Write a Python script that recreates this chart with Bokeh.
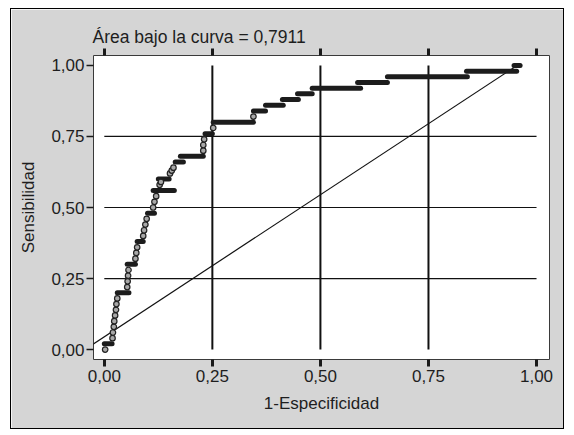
from bokeh.plotting import figure
from bokeh.models import Range1d, FixedTicker, LinearAxis
from bokeh.embed import file_html
from bokeh.resources import INLINE

# ---- data ----
tick_vals = [0.0, 0.25, 0.5, 0.75, 1.0]
tick_labels = ["0,00", "0,25", "0,50", "0,75", "1,00"]
grid_vals = [0.25, 0.5, 0.75]

# horizontal runs of the ROC curve (sensitivity level, start and end of 1-specificity)
run_y = [0.02, 0.20, 0.30, 0.38, 0.48, 0.56, 0.60, 0.66, 0.68, 0.76, 0.80, 0.84,
         0.86, 0.88, 0.90, 0.92, 0.94, 0.96, 0.98, 1.00]
run_x0 = [0.000, 0.030, 0.053, 0.076, 0.100, 0.113, 0.125, 0.164, 0.176, 0.233, 0.252, 0.345,
          0.373, 0.412, 0.447, 0.481, 0.586, 0.655, 0.838, 0.948]
run_x1 = [0.018, 0.057, 0.072, 0.090, 0.116, 0.162, 0.150, 0.183, 0.229, 0.250, 0.345, 0.373,
          0.414, 0.449, 0.481, 0.593, 0.655, 0.840, 0.954, 0.962]

# individual points on the rising parts
pt_x = [0.002, 0.019, 0.020, 0.022, 0.023, 0.025, 0.027, 0.028, 0.030,
        0.053, 0.054, 0.055, 0.056, 0.072, 0.074, 0.076,
        0.090, 0.092, 0.095, 0.098, 0.113, 0.116, 0.120,
        0.128, 0.131, 0.152, 0.156, 0.160, 0.229, 0.229, 0.231, 0.252, 0.345]
pt_y = [0.00, 0.04, 0.06, 0.08, 0.10, 0.12, 0.14, 0.16, 0.18,
        0.22, 0.24, 0.26, 0.28, 0.32, 0.34, 0.36,
        0.40, 0.42, 0.44, 0.46, 0.50, 0.52, 0.54,
        0.58, 0.59, 0.62, 0.63, 0.64, 0.70, 0.72, 0.74, 0.78, 0.82]

# reference line
ref_x = [-0.045, 0.955]
ref_y = [0.0, 1.0]

title_text = "Área bajo la curva = 0,7911"
x_label = "1-Especificidad"
y_label = "Sensibilidad"

FONT = "Liberation Sans"
TXT = "#1e1e1e"
BG = "#d5d5d5"

p = figure(width=554, height=421, output_backend="svg", toolbar_location=None,
           x_range=Range1d(-0.025, 1.03), y_range=Range1d(-0.035, 1.035),
           min_border_left=82, min_border_right=16, min_border_top=46, min_border_bottom=71,
           x_axis_location=None, y_axis_location=None,
           title=title_text)
p.background_fill_color = "white"
p.border_fill_color = BG
p.outline_line_color = "#3a3a3a"
p.outline_line_width = 1
p.xgrid.visible = False
p.ygrid.visible = False
p.styles = {"border": "1px solid black", "margin-left": "10px", "margin-top": "8px"}

p.title.align = "left"
p.title.offset = -1
p.title.text_font = FONT
p.title.text_font_size = "17.5px"
p.title.text_font_style = "normal"
p.title.text_color = TXT
p.title.standoff = 4

overrides = {v: l for v, l in zip(tick_vals, tick_labels)}
blank = {v: "" for v in tick_vals}

xb = LinearAxis(ticker=FixedTicker(ticks=tick_vals), major_label_overrides=overrides,
                axis_label=x_label)
yl = LinearAxis(ticker=FixedTicker(ticks=tick_vals), major_label_overrides=overrides,
                axis_label=y_label)
xt = LinearAxis(ticker=FixedTicker(ticks=tick_vals), major_label_overrides=blank)

for ax in (xb, yl, xt):
    ax.axis_line_color = None
    ax.minor_tick_line_color = None
    ax.major_tick_in = 0
    ax.major_tick_out = 7
    ax.major_tick_line_color = "#1a1a1a"
    ax.major_label_text_font = FONT
    ax.major_label_text_font_size = "17px"
    ax.major_label_text_color = TXT
    ax.axis_label_text_font = FONT
    ax.axis_label_text_font_size = "17px"
    ax.axis_label_text_font_style = "normal"
    ax.axis_label_text_color = TXT

xt.major_label_text_font_size = "1px"
xb.major_tick_line_width = 3
xt.major_tick_line_width = 3
yl.major_tick_line_width = 1.5
xb.major_label_standoff = 3
xb.axis_label_standoff = 9
yl.major_label_standoff = 2
yl.axis_label_standoff = 10
xt.major_label_standoff = 0

p.add_layout(xb, "below")
p.add_layout(yl, "left")
p.add_layout(xt, "above")

# grid-like reference lines within 0..1
lo, hi = tick_vals[0], tick_vals[-1]
p.segment(x0=grid_vals, x1=grid_vals, y0=[lo] * 3, y1=[hi] * 3, line_color="#111111", line_width=2)
p.segment(x0=[lo] * 3, x1=[hi] * 3, y0=grid_vals, y1=grid_vals, line_color="#111111", line_width=1.2)

# diagonal
p.line(ref_x, ref_y, line_color="#111111", line_width=1.2)

# ROC curve
p.segment(x0=run_x0, x1=run_x1, y0=run_y, y1=run_y, line_color="#1c1c1c", line_width=5,
          line_cap="round")
p.scatter(pt_x, pt_y, size=5.5, fill_color="#a8a8a8", line_color="#222222", line_width=1.2)

open("out.html", "w").write(file_html(p, INLINE))
